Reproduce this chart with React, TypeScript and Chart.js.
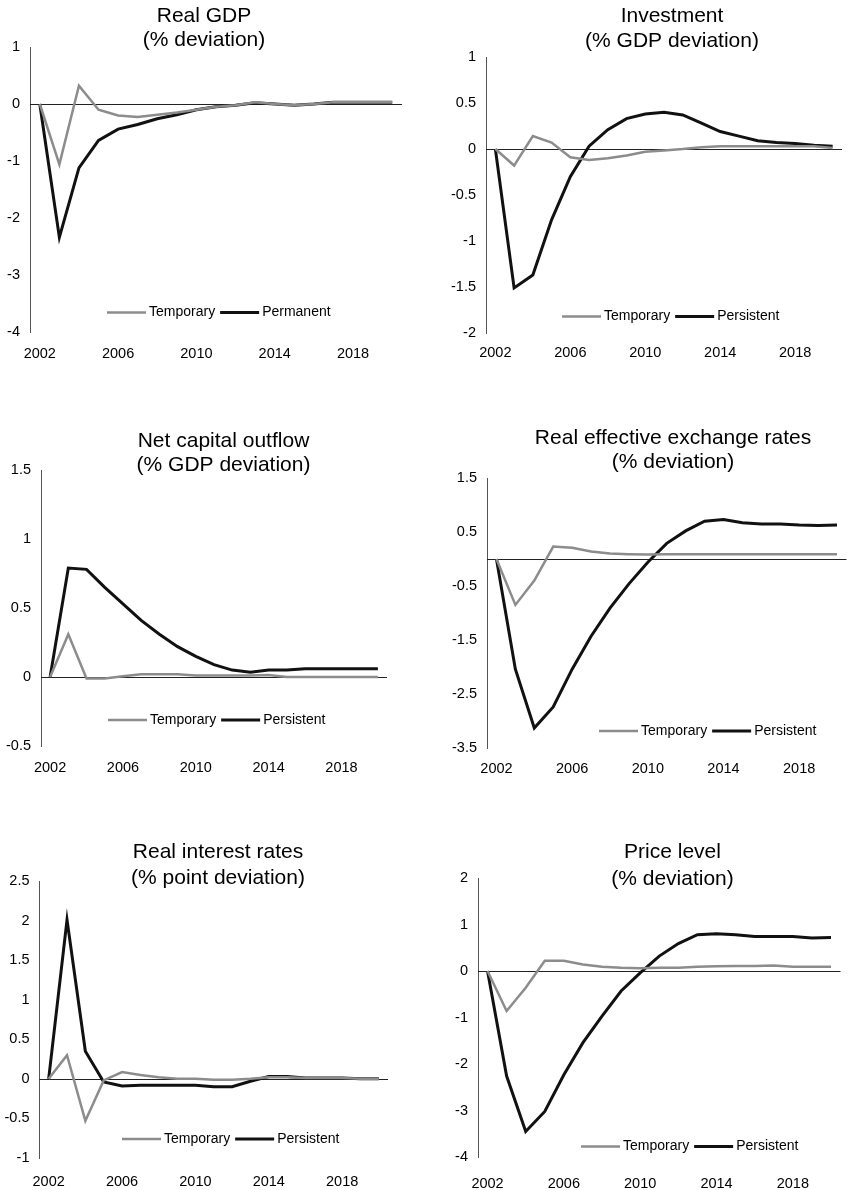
import React, { useEffect, useRef } from 'react';
import { Chart, registerables } from 'chart.js';

Chart.register(...registerables);

// ---------- data ----------
const years = [
  '2002', '2003', '2004', '2005', '2006', '2007', '2008', '2009', '2010', '2011',
  '2012', '2013', '2014', '2015', '2016', '2017', '2018', '2019', '2020',
];
const xTickLabels = ['2002', '2006', '2010', '2014', '2018'];

const gdpTemporary = [0, -1.06, 0.32, -0.10, -0.20, -0.23, -0.19, -0.15, -0.10, -0.05, -0.02, 0.03, 0.00, -0.02, 0.00, 0.03, 0.03, 0.03, 0.03];
const gdpPermanent = [0, -2.34, -1.12, -0.64, -0.44, -0.36, -0.26, -0.19, -0.10, -0.05, -0.02, 0.02, 0.00, -0.02, 0.00, 0.03, 0.03, 0.03, 0.03];
const gdpTicks = [-4, -3, -2, -1, 0, 1];

const investmentTemporary = [0, -0.18, 0.14, 0.07, -0.09, -0.12, -0.10, -0.07, -0.03, -0.015, 0.00, 0.02, 0.03, 0.03, 0.03, 0.03, 0.03, 0.03, 0.01];
const investmentPersistent = [0, -1.51, -1.37, -0.77, -0.30, 0.03, 0.21, 0.33, 0.38, 0.40, 0.37, 0.28, 0.19, 0.14, 0.09, 0.07, 0.06, 0.04, 0.03];
const investmentTicks = [-2, -1.5, -1, -0.5, 0, 0.5, 1];

const capitalTemporary = [0, 0.31, -0.01, -0.01, 0.005, 0.02, 0.02, 0.02, 0.01, 0.01, 0.01, 0.01, 0.015, 0.0, 0.0, 0.0, 0.0, 0.0, 0.0];
const capitalPersistent = [0, 0.79, 0.78, 0.65, 0.53, 0.41, 0.31, 0.22, 0.15, 0.09, 0.05, 0.035, 0.05, 0.05, 0.06, 0.06, 0.06, 0.06, 0.06];
const capitalTicks = [-0.5, 0, 0.5, 1, 1.5];

const reerTemporary = [0, -0.85, -0.40, 0.23, 0.21, 0.14, 0.10, 0.09, 0.085, 0.09, 0.09, 0.09, 0.09, 0.09, 0.09, 0.09, 0.09, 0.09, 0.09];
const reerPersistent = [0, -2.04, -3.13, -2.74, -2.04, -1.43, -0.91, -0.46, -0.06, 0.29, 0.52, 0.70, 0.73, 0.67, 0.65, 0.65, 0.63, 0.62, 0.63];
const reerTicks = [-3.5, -2.5, -1.5, -0.5, 0.5, 1.5];

const rateTemporary = [0, 0.30, -0.53, -0.02, 0.085, 0.05, 0.02, 0.0, 0.0, -0.01, -0.01, 0.0, 0.02, 0.02, 0.01, 0.01, 0.01, 0.0, 0.0];
const ratePersistent = [0, 2.01, 0.35, -0.04, -0.09, -0.08, -0.08, -0.08, -0.08, -0.10, -0.10, -0.03, 0.03, 0.03, 0.01, 0.01, 0.01, 0.0, 0.0];
const rateTicks = [-1, -0.5, 0, 0.5, 1, 1.5, 2, 2.5];

const priceTemporary = [0, -0.86, -0.36, 0.22, 0.22, 0.14, 0.09, 0.07, 0.06, 0.07, 0.07, 0.09, 0.10, 0.11, 0.11, 0.12, 0.09, 0.09, 0.09];
const pricePersistent = [0, -2.26, -3.45, -3.02, -2.23, -1.54, -0.97, -0.43, -0.04, 0.32, 0.59, 0.78, 0.80, 0.78, 0.74, 0.74, 0.74, 0.71, 0.72];
const priceTicks = [-4, -3, -2, -1, 0, 1, 2];

// ---------- styling ----------
const FONT = '"Liberation Sans", Arial, Helvetica, sans-serif';
const GREY = '#8c8c8c';
const BLACK = '#111111';

type Rect = { x: number; y: number; w: number; h: number };
type Area = { l: number; t: number; r: number; b: number };

interface PanelSpec {
  title: string[];
  temporary: number[];
  shock: number[];
  shockLabel: string;
  yTicks: number[];
  canvas: Rect;
  area: Area;
  titleX: number;
  titleY: [number, number];
  legendX: number;
  legendY: number;
  xPad: number;
}

const panels: PanelSpec[] = [
  {
    title: ['Real GDP', '(% deviation)'],
    temporary: gdpTemporary, shock: gdpPermanent, shockLabel: 'Permanent', yTicks: gdpTicks,
    canvas: { x: 0, y: 0, w: 424, h: 380 },
    area: { l: 30, t: 47, r: 402, b: 332 },
    titleX: 204, titleY: [16, 40.5], legendX: 107, legendY: 312.5, xPad: 13.3,
  },
  {
    title: ['Investment', '(% GDP deviation)'],
    temporary: investmentTemporary, shock: investmentPersistent, shockLabel: 'Persistent', yTicks: investmentTicks,
    canvas: { x: 424, y: 0, w: 425, h: 380 },
    area: { l: 486, t: 57, r: 842, b: 333 },
    titleX: 672, titleY: [16, 41], legendX: 562, legendY: 316.5, xPad: 10.8,
  },
  {
    title: ['Net capital outflow', '(% GDP deviation)'],
    temporary: capitalTemporary, shock: capitalPersistent, shockLabel: 'Persistent', yTicks: capitalTicks,
    canvas: { x: 0, y: 380, w: 424, h: 410 },
    area: { l: 41, t: 470, r: 387, b: 746 },
    titleX: 223.5, titleY: [441, 465], legendX: 108, legendY: 720, xPad: 13.3,
  },
  {
    title: ['Real effective exchange rates', '(% deviation)'],
    temporary: reerTemporary, shock: reerPersistent, shockLabel: 'Persistent', yTicks: reerTicks,
    canvas: { x: 424, y: 380, w: 425, h: 410 },
    area: { l: 487, t: 478, r: 849, b: 748 },
    titleX: 673, titleY: [438.5, 462], legendX: 599, legendY: 731, xPad: 12,
  },
  {
    title: ['Real interest rates', '(% point deviation)'],
    temporary: rateTemporary, shock: ratePersistent, shockLabel: 'Persistent', yTicks: rateTicks,
    canvas: { x: 0, y: 790, w: 424, h: 400 },
    area: { l: 39.5, t: 881, r: 388, b: 1158 },
    titleX: 218, titleY: [852.5, 878], legendX: 122, legendY: 1139, xPad: 15,
  },
  {
    title: ['Price level', '(% deviation)'],
    temporary: priceTemporary, shock: pricePersistent, shockLabel: 'Persistent', yTicks: priceTicks,
    canvas: { x: 424, y: 790, w: 425, h: 400 },
    area: { l: 478, t: 878, r: 849, b: 1157 },
    titleX: 672.5, titleY: [852, 879], legendX: 581, legendY: 1146.5, xPad: 18,
  },
];

// Thin horizontal reference line at zero across the plot area.
const zeroLine = {
  id: 'zeroLine',
  beforeDatasetsDraw(chart: any) {
    const { ctx, chartArea } = chart;
    const y = Math.round(chart.scales.y.getPixelForValue(0)) + 0.5;
    ctx.save();
    ctx.strokeStyle = '#222222';
    ctx.lineWidth = 1;
    ctx.beginPath();
    ctx.moveTo(chartArea.left, y);
    ctx.lineTo(chartArea.right, y);
    ctx.stroke();
    ctx.restore();
  },
};

// Two-line heading above the plot and the in-plot legend near its foot.
function makeDecor(spec: PanelSpec) {
  const ox = spec.canvas.x;
  const oy = spec.canvas.y;
  return {
    id: 'panelDecor',
    afterDraw(chart: any) {
      const { ctx } = chart;
      ctx.save();
      ctx.fillStyle = '#000';
      ctx.font = `21px ${FONT}`;
      ctx.textAlign = 'center';
      ctx.textBaseline = 'middle';
      spec.title.forEach((line, i) => {
        ctx.fillText(line, spec.titleX - ox, spec.titleY[i] - oy);
      });

      ctx.font = `14px ${FONT}`;
      ctx.textAlign = 'left';
      let x = spec.legendX - ox;
      const y = spec.legendY - oy;
      chart.data.datasets.forEach((ds: any) => {
        ctx.strokeStyle = ds.borderColor;
        ctx.lineWidth = ds.borderWidth;
        ctx.beginPath();
        ctx.moveTo(x, y);
        ctx.lineTo(x + 39, y);
        ctx.stroke();
        x += 42;
        ctx.fillStyle = '#000';
        ctx.fillText(ds.label, x, y);
        x += ctx.measureText(ds.label).width + 5;
      });
      ctx.restore();
    },
  };
}

function Panel({ spec }: { spec: PanelSpec }) {
  const ref = useRef<HTMLCanvasElement | null>(null);

  useEffect(() => {
    if (!ref.current) return;
    const { canvas, area, yTicks } = spec;
    const chart = new Chart(ref.current, {
      type: 'line',
      data: {
        labels: years,
        datasets: [
          {
            label: 'Temporary',
            data: spec.temporary,
            borderColor: GREY,
            backgroundColor: GREY,
            borderWidth: 2.5,
            pointRadius: 0,
            tension: 0,
          },
          {
            label: spec.shockLabel,
            data: spec.shock,
            borderColor: BLACK,
            backgroundColor: BLACK,
            borderWidth: 3,
            pointRadius: 0,
            tension: 0,
          },
        ],
      },
      options: {
        responsive: false,
        animation: false,
        events: [],
        layout: {
          padding: {
            left: 0,
            top: area.t - canvas.y,
            right: canvas.x + canvas.w - area.r,
            bottom: 0,
          },
        },
        plugins: {
          legend: { display: false },
          title: { display: false },
          tooltip: { enabled: false },
        },
        scales: {
          x: {
            type: 'category',
            offset: true,
            grid: { display: false, drawTicks: false },
            border: { display: false },
            ticks: {
              autoSkip: false,
              maxRotation: 0,
              minRotation: 0,
              padding: spec.xPad,
              color: '#000',
              font: { family: FONT, size: 14.5 },
              callback: (_v: any, i: number) => (xTickLabels.includes(years[i]) ? years[i] : ''),
            },
            afterFit: (s: any) => {
              s.height = canvas.y + canvas.h - area.b;
            },
          },
          y: {
            min: yTicks[0],
            max: yTicks[yTicks.length - 1],
            grid: { display: false, drawTicks: false },
            border: { display: true, color: '#555555', width: 1 },
            ticks: {
              padding: 10,
              color: '#000',
              font: { family: FONT, size: 14.5 },
              callback: (v: any) => String(v),
            },
            afterBuildTicks: (s: any) => {
              s.ticks = yTicks.map((v) => ({ value: v }));
            },
            afterFit: (s: any) => {
              s.width = area.l - canvas.x;
            },
          },
        },
      } as any,
      plugins: [zeroLine, makeDecor(spec)],
    });
    return () => chart.destroy();
  }, [spec]);

  return (
    <canvas
      ref={ref}
      width={spec.canvas.w}
      height={spec.canvas.h}
      style={{
        position: 'absolute',
        left: spec.canvas.x,
        top: spec.canvas.y,
        width: spec.canvas.w,
        height: spec.canvas.h,
      }}
    />
  );
}

export default function App() {
  return (
    <div
      style={{
        position: 'absolute',
        left: 0,
        top: 0,
        width: 849,
        height: 1190,
        overflow: 'hidden',
        background: '#fff',
      }}
    >
      {panels.map((p) => (
        <Panel key={p.title[0]} spec={p} />
      ))}
    </div>
  );
}
